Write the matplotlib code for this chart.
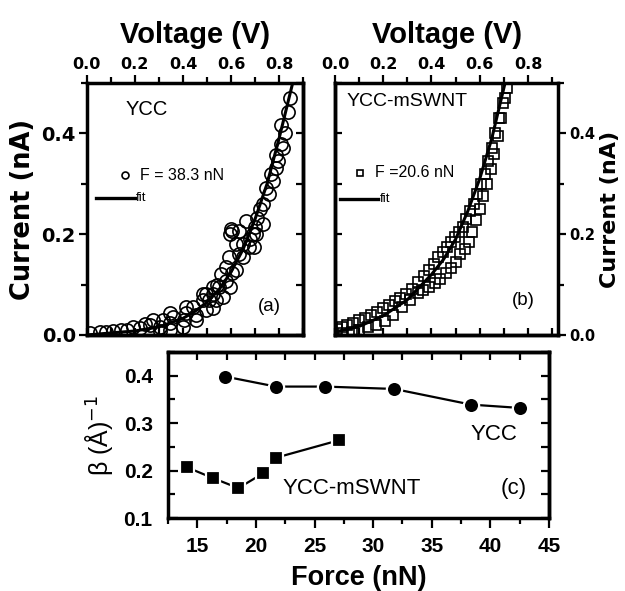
import matplotlib
matplotlib.use("Agg")
import matplotlib.pyplot as plt
from matplotlib.ticker import MultipleLocator, FormatStrFormatter

plt.rcParams['font.family'] = ['Liberation Sans', 'DejaVu Sans']

# ---------------- data ----------------
# panel (a) YCC, F = 38.3 nN
va = [0.844, 0.835, 0.807, 0.807, 0.786, 0.786, 0.766, 0.745, 0.731, 0.710, 0.690, 0.696,
      0.662, 0.634, 0.606, 0.620, 0.634, 0.593, 0.579, 0.606, 0.579, 0.551, 0.524, 0.496,
      0.537, 0.482, 0.441, 0.496, 0.455, 0.413, 0.406, 0.358, 0.344, 0.316, 0.303, 0.261,
      0.220, 0.165, 0.110, 0.054, 0.012,
      0.400, 0.456, 0.525, 0.567, 0.594, 0.622, 0.650, 0.676, 0.705, 0.732, 0.345, 0.304,
      0.594, 0.600, 0.525, 0.484, 0.414, 0.345, 0.276, 0.240, 0.190, 0.140, 0.080,
      0.825, 0.815, 0.797, 0.776, 0.756, 0.720, 0.700, 0.680, 0.650, 0.560, 0.540, 0.510]
ia = [0.470, 0.443, 0.417, 0.378, 0.358, 0.332, 0.319, 0.292, 0.260, 0.233, 0.200, 0.174,
      0.227, 0.207, 0.207, 0.181, 0.161, 0.154, 0.135, 0.122, 0.108, 0.095, 0.082, 0.082,
      0.069, 0.069, 0.056, 0.049, 0.039, 0.043, 0.030, 0.036, 0.023, 0.030, 0.016, 0.020,
      0.013, 0.010, 0.007, 0.005, 0.003,
      0.016, 0.030, 0.053, 0.076, 0.095, 0.128, 0.154, 0.174, 0.200, 0.220, 0.010, 0.007,
      0.200, 0.210, 0.095, 0.082, 0.056, 0.043, 0.030, 0.022, 0.015, 0.010, 0.006,
      0.400, 0.370, 0.345, 0.305, 0.280, 0.250, 0.215, 0.190, 0.180, 0.120, 0.100, 0.070]
fit_va = [0.0, 0.1, 0.2, 0.3, 0.4, 0.45, 0.5, 0.55, 0.6, 0.65, 0.7, 0.75, 0.8, 0.854]
fit_ia = [0.0, 0.004, 0.008, 0.016, 0.033, 0.047, 0.065, 0.09, 0.125, 0.17, 0.23, 0.30, 0.39, 0.495]

# panel (b) YCC-mSWNT, F = 20.6 nN
vb = [0.712, 0.695, 0.680, 0.665, 0.650, 0.635, 0.620, 0.605, 0.590, 0.575, 0.560, 0.545,
      0.530, 0.515, 0.497, 0.480, 0.465, 0.448, 0.428, 0.410, 0.390, 0.370, 0.345, 0.320,
      0.295, 0.270, 0.249, 0.225, 0.200, 0.175, 0.150, 0.125, 0.100, 0.075, 0.050, 0.030, 0.010,
      0.705, 0.690, 0.675, 0.660, 0.645, 0.630, 0.615, 0.600, 0.585, 0.570, 0.555, 0.540,
      0.520, 0.500, 0.480, 0.460, 0.435, 0.415, 0.390, 0.365, 0.344, 0.310, 0.276, 0.240,
      0.207, 0.170, 0.137, 0.100, 0.070, 0.035]
ib = [0.490, 0.460, 0.430, 0.400, 0.370, 0.345, 0.320, 0.300, 0.280, 0.260, 0.245, 0.230,
      0.215, 0.205, 0.195, 0.185, 0.175, 0.165, 0.155, 0.140, 0.128, 0.118, 0.105, 0.092,
      0.082, 0.074, 0.068, 0.060, 0.053, 0.046, 0.040, 0.034, 0.029, 0.024, 0.019, 0.015, 0.012,
      0.470, 0.430, 0.395, 0.360, 0.330, 0.300, 0.275, 0.250, 0.228, 0.205, 0.185, 0.170,
      0.160, 0.145, 0.133, 0.122, 0.112, 0.104, 0.096, 0.090, 0.084, 0.070, 0.055, 0.040,
      0.028, 0.020, 0.015, 0.010, 0.006, 0.004]
fit_vb = [0.0, 0.1, 0.2, 0.3, 0.4, 0.45, 0.5, 0.55, 0.6, 0.65, 0.7, 0.705]
fit_ib = [0.006, 0.017, 0.038, 0.07, 0.12, 0.15, 0.19, 0.245, 0.31, 0.39, 0.49, 0.50]

# panel (c) beta vs force
force_ycc = [17.4, 21.7, 25.9, 31.8, 38.35, 42.5]
beta_ycc = [0.398, 0.377, 0.377, 0.372, 0.339, 0.332]
force_swnt = [14.1, 16.35, 18.5, 20.6, 21.7, 27.1]
beta_swnt = [0.207, 0.184, 0.163, 0.194, 0.227, 0.264]

# ---------------- figure ----------------
fig = plt.figure(figsize=(6.25, 5.91), dpi=100)

SP_LW = 2.5
TW = 1.6
WIDE = 'DejaVu Sans'

def style_spines(ax):
    for s in ax.spines.values():
        s.set_linewidth(SP_LW)

def set_tickfont(labels, size, family):
    for lab in labels:
        lab.set_fontsize(size)
        lab.set_fontweight('bold')
        lab.set_fontfamily(family)

# ---- panel (a)
axa = fig.add_axes([0.139, 0.4332, 0.346, 0.4264])
axa.set_xlim(0, 0.9)
axa.set_ylim(0, 0.5)
axa.plot(va, ia, linestyle='none', marker='o', markersize=9.5, markerfacecolor='none',
         markeredgecolor='black', markeredgewidth=1.2)
axa.plot(fit_va, fit_ia, color='black', linewidth=2.2)
axa.xaxis.tick_top()
axa.xaxis.set_label_position('top')
axa.set_xticks([0.0, 0.2, 0.4, 0.6, 0.8])
axa.xaxis.set_minor_locator(MultipleLocator(0.1))
axa.set_yticks([0.0, 0.2, 0.4])
axa.yaxis.set_minor_locator(MultipleLocator(0.1))
axa.xaxis.set_major_formatter(FormatStrFormatter('%.1f'))
axa.yaxis.set_major_formatter(FormatStrFormatter('%.1f'))
axa.tick_params(which='major', direction='out', length=6, width=TW, pad=2)
axa.tick_params(which='minor', direction='out', length=4, width=TW)
sa_b = axa.secondary_xaxis('bottom')
sa_b.xaxis.set_major_locator(MultipleLocator(0.1))
sa_b.tick_params(direction='in', length=5, width=TW, labelbottom=False)
sa_b.spines['bottom'].set_linewidth(SP_LW)
sa_r = axa.secondary_yaxis('right')
sa_r.yaxis.set_major_locator(MultipleLocator(0.1))
sa_r.tick_params(direction='in', length=5, width=TW, labelright=False)
sa_r.spines['right'].set_linewidth(SP_LW)
style_spines(axa)
set_tickfont(axa.get_xticklabels(), 11.5, WIDE)
set_tickfont(axa.get_yticklabels(), 14, WIDE)
axa.set_xlabel('Voltage (V)', fontsize=21, fontweight='bold', labelpad=10)
axa.set_ylabel('Current (nA)', fontsize=18.5, fontweight='bold', labelpad=4, family=WIDE)
axa.text(0.25, 0.448, 'YCC', fontsize=14.5, ha='center', va='center')
axa.plot([0.16], [0.317], linestyle='none', marker='o', markersize=5, markerfacecolor='none',
         markeredgecolor='black', markeredgewidth=1.2)
axa.text(0.22, 0.317, 'F = 38.3 nN', fontsize=11.5, ha='left', va='center')
axa.plot([0.04, 0.20], [0.272, 0.272], color='black', linewidth=2.4)
axa.text(0.205, 0.272, 'fit', fontsize=9.5, ha='left', va='center')
axa.text(0.76, 0.056, '(a)', fontsize=13.5, ha='center', va='center')

# ---- panel (b)
axb = fig.add_axes([0.536, 0.4332, 0.357, 0.4264])
axb.set_xlim(0, 0.925)
axb.set_ylim(0, 0.5)
axb.plot(vb, ib, linestyle='none', marker='s', markersize=7.5, markerfacecolor='none',
         markeredgecolor='black', markeredgewidth=1.2)
axb.plot(fit_vb, fit_ib, color='black', linewidth=2.2)
axb.xaxis.tick_top()
axb.xaxis.set_label_position('top')
axb.yaxis.tick_right()
axb.yaxis.set_label_position('right')
axb.set_xticks([0.0, 0.2, 0.4, 0.6, 0.8])
axb.xaxis.set_minor_locator(MultipleLocator(0.1))
axb.set_yticks([0.0, 0.2, 0.4])
axb.yaxis.set_minor_locator(MultipleLocator(0.1))
axb.xaxis.set_major_formatter(FormatStrFormatter('%.1f'))
axb.yaxis.set_major_formatter(FormatStrFormatter('%.1f'))
axb.tick_params(which='major', direction='out', length=6, width=TW, pad=2)
axb.tick_params(which='minor', direction='out', length=4, width=TW)
sb_b = axb.secondary_xaxis('bottom')
sb_b.xaxis.set_major_locator(MultipleLocator(0.1))
sb_b.tick_params(direction='in', length=5, width=TW, labelbottom=False)
sb_b.spines['bottom'].set_linewidth(SP_LW)
sb_l = axb.secondary_yaxis('left')
sb_l.yaxis.set_major_locator(MultipleLocator(0.1))
sb_l.tick_params(direction='in', length=5, width=TW, labelleft=False)
sb_l.spines['left'].set_linewidth(SP_LW)
style_spines(axb)
set_tickfont(axb.get_xticklabels(), 11.5, WIDE)
set_tickfont(axb.get_yticklabels(), 10.5, WIDE)
axb.set_xlabel('Voltage (V)', fontsize=21, fontweight='bold', labelpad=10)
axb.set_ylabel('Current (nA)', fontsize=16, fontweight='bold', labelpad=3, rotation=90, family=WIDE)
axb.text(0.30, 0.464, 'YCC-mSWNT', fontsize=14, ha='center', va='center')
axb.plot([0.104], [0.322], linestyle='none', marker='s', markersize=5, markerfacecolor='none',
         markeredgecolor='black', markeredgewidth=1.2)
axb.text(0.166, 0.322, 'F =20.6 nN', fontsize=11.5, ha='left', va='center')
axb.plot([0.02, 0.18], [0.27, 0.27], color='black', linewidth=2.4)
axb.text(0.186, 0.27, 'fit', fontsize=9.5, ha='left', va='center')
axb.text(0.78, 0.068, '(b)', fontsize=13.5, ha='center', va='center')

# ---- panel (c)
axc = fig.add_axes([0.2688, 0.1235, 0.6096, 0.281])
axc.set_xlim(12.5, 45)
axc.set_ylim(0.1, 0.45)
axc.plot(force_ycc, beta_ycc, color='black', linewidth=1.6, marker='o', markersize=11,
         markerfacecolor='black', markeredgecolor='white', markeredgewidth=1.6)
axc.plot(force_swnt, beta_swnt, color='black', linewidth=1.6, marker='s', markersize=10.5,
         markerfacecolor='black', markeredgecolor='white', markeredgewidth=1.6)
axc.set_xticks([15, 20, 25, 30, 35, 40, 45])
axc.xaxis.set_minor_locator(MultipleLocator(2.5))
axc.set_yticks([0.1, 0.2, 0.3, 0.4])
axc.yaxis.set_minor_locator(MultipleLocator(0.05))
axc.yaxis.set_major_formatter(FormatStrFormatter('%.1f'))
axc.tick_params(axis='x', which='major', direction='out', length=7, width=TW, pad=7)
axc.tick_params(axis='x', which='minor', direction='out', length=4, width=TW)
axc.tick_params(axis='y', which='major', direction='in', length=7, width=TW, pad=11)
axc.tick_params(axis='y', which='minor', direction='in', length=5, width=TW)
sc_t = axc.secondary_xaxis('top')
sc_t.xaxis.set_major_locator(MultipleLocator(2.5))
sc_t.tick_params(direction='in', length=6, width=TW, labeltop=False)
sc_t.spines['top'].set_linewidth(SP_LW)
sc_r = axc.secondary_yaxis('right')
sc_r.yaxis.set_major_locator(MultipleLocator(0.05))
sc_r.tick_params(direction='in', length=6, width=TW, labelright=False)
sc_r.spines['right'].set_linewidth(SP_LW)
style_spines(axc)
set_tickfont(axc.get_xticklabels() + axc.get_yticklabels(), 15, 'Liberation Sans')
axc.set_xlabel('Force (nN)', fontsize=19.5, fontweight='bold', labelpad=6)
axc.set_ylabel('β (Å)$^{-1}$', fontsize=18, labelpad=6)
axc.text(40.3, 0.275, 'YCC', fontsize=16, ha='center', va='center')
axc.text(22.3, 0.163, 'YCC-mSWNT', fontsize=16, ha='left', va='center')
axc.text(42.0, 0.163, '(c)', fontsize=16, ha='center', va='center')

fig.savefig('out.png', dpi=100)
